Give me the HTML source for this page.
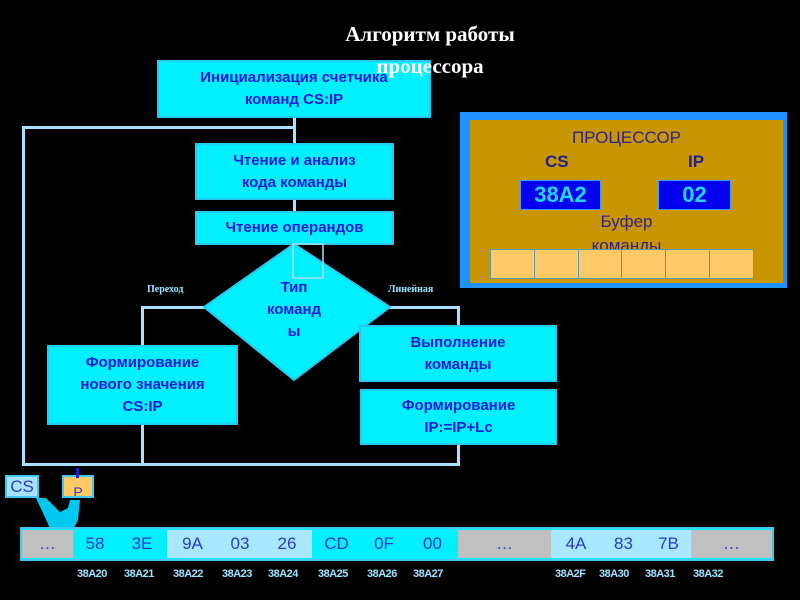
<!DOCTYPE html>
<html><head><meta charset="utf-8"><style>
body{margin:0;width:800px;height:600px;background:#000;position:relative;overflow:hidden;font-family:"Liberation Sans",sans-serif}
.a{position:absolute;box-sizing:border-box}
.b{background:#00f0ff;border:2px solid #28c8f0;color:#1a1ad8;font-weight:bold;font-size:15px;display:flex;align-items:center;justify-content:center;text-align:center;line-height:22px}
.l{position:absolute;background:#a8e0ff}
.m{position:absolute;top:530px;height:28px;display:flex;align-items:center;justify-content:center;color:#2a3acc;font-size:17px;border-right:2px solid #5ad0f0}
.ad{position:absolute;top:568px;color:#9be4ff;font-weight:bold;font-size:11px;letter-spacing:-0.5px}
</style></head><body>

<div class="l" style="left:22px;top:126px;width:3px;height:340px"></div>
<div class="l" style="left:22px;top:126px;width:272px;height:3px"></div>
<div class="l" style="left:293px;top:117px;width:3px;height:28px"></div>
<div class="l" style="left:293px;top:200px;width:3px;height:12px"></div>
<div class="l" style="left:141px;top:306px;width:64px;height:3px"></div>
<div class="l" style="left:141px;top:306px;width:3px;height:40px"></div>
<div class="l" style="left:388px;top:306px;width:71px;height:3px"></div>
<div class="l" style="left:457px;top:306px;width:3px;height:20px"></div>
<div class="l" style="left:141px;top:424px;width:3px;height:42px"></div>
<div class="l" style="left:457px;top:443px;width:3px;height:23px"></div>
<div class="l" style="left:22px;top:463px;width:438px;height:3px"></div>

<div class="a b" style="left:157px;top:60px;width:274px;height:58px">Инициализация счетчика<br>команд CS:IP</div>
<div class="a b" style="left:195px;top:143px;width:199px;height:57px">Чтение и анализ<br>кода команды</div>
<div class="a b" style="left:195px;top:211px;width:199px;height:34px">Чтение операндов</div>

<svg class="a" style="left:200px;top:240px" width="195" height="145"><polygon points="94,4 190,67 94,140 4,67" fill="#00f0ff" stroke="#28c8f0" stroke-width="2"/><rect x="93" y="4" width="30" height="34" fill="none" stroke="#a8e0ff" stroke-width="1.5"/></svg>
<div class="a" style="left:244px;top:277px;width:100px;text-align:center;color:#1a1ad8;font-weight:bold;font-size:15px;line-height:22px">Тип<br>команд<br>ы</div>
<div class="a" style="left:147px;top:284px;color:#9be4ff;font-weight:bold;font-size:10px;font-family:'Liberation Serif',serif">Переход</div>
<div class="a" style="left:388px;top:284px;color:#9be4ff;font-weight:bold;font-size:10px;font-family:'Liberation Serif',serif">Линейная</div>

<div class="a b" style="left:47px;top:345px;width:191px;height:80px">Формирование<br>нового значения<br>CS:IP</div>
<div class="a b" style="left:359px;top:325px;width:198px;height:57px">Выполнение<br>команды</div>
<div class="a b" style="left:360px;top:389px;width:197px;height:56px">Формирование<br>IP:=IP+Lc</div>

<div class="a" style="left:460px;top:112px;width:327px;height:176px;background:#1e90ff"></div>
<div class="a" style="left:470px;top:120px;width:313px;height:163px;background:#c89600"></div>
<div class="a" style="left:470px;top:128px;width:313px;text-align:center;color:#32208a;font-size:17px">ПРОЦЕССОР</div>
<div class="a" style="left:545px;top:152px;color:#22208a;font-weight:bold;font-size:17px">CS</div>
<div class="a" style="left:688px;top:152px;color:#22208a;font-weight:bold;font-size:17px">IP</div>
<div class="a" style="left:520px;top:180px;width:81px;height:30px;background:#0000ee;border:1px solid #3aa0ff;color:#20d8ff;font-weight:bold;font-size:22px;text-align:center;line-height:28px">38A2</div>
<div class="a" style="left:658px;top:180px;width:73px;height:30px;background:#0000ee;border:1px solid #3aa0ff;color:#20d8ff;font-weight:bold;font-size:22px;text-align:center;line-height:28px">02</div>
<div class="a" style="left:470px;top:210px;width:313px;text-align:center;color:#32208a;font-size:17px;line-height:24px">Буфер<br>команды</div>
<div class="a" style="left:490px;top:249px;width:264px;height:30px;display:flex;border:1px solid #5a9ab0">
<div style="flex:1;background:#ffc966;border-right:1px solid #5a9ab0"></div><div style="flex:1;background:#ffc966;border-right:1px solid #5a9ab0"></div><div style="flex:1;background:#ffc966;border-right:1px solid #5a9ab0"></div><div style="flex:1;background:#ffc966;border-right:1px solid #5a9ab0"></div><div style="flex:1;background:#ffc966;border-right:1px solid #5a9ab0"></div><div style="flex:1;background:#ffc966"></div></div>

<svg class="a" style="left:30px;top:490px" width="60" height="50"><polygon points="6,8 16,8 30,22 38,18 40,10 50,10 48,30 42,42 22,44 18,34" fill="#00c8f0"/></svg>
<div class="a" style="left:5px;top:475px;width:34px;height:23px;background:#a8e4ff;border:2px solid #40c8f0;color:#2a3acc;font-size:17px;text-align:center;line-height:20px">CS</div>
<div class="a" style="left:62px;top:475px;width:32px;height:23px;background:#ffc966;border:2px solid #40c8f0;color:#2a3acc;font-size:14px;text-align:center;line-height:30px;overflow:hidden">P</div>
<div class="a" style="left:76px;top:468px;width:3px;height:10px;background:#1a1ad8"></div>

<div class="a" style="left:20px;top:527px;width:754px;height:34px;background:#00f0ff;border:2px solid #40c8f0"></div>
<div class="m" style="left:22px;width:51px;background:#c0c0c0">…</div>
<div class="m" style="left:73px;width:44px;background:#00f0ff">58</div>
<div class="m" style="left:117px;width:50px;background:#00f0ff">3E</div>
<div class="m" style="left:167px;width:51px;background:#a8e8ff">9A</div>
<div class="m" style="left:218px;width:44px;background:#a8e8ff">03</div>
<div class="m" style="left:262px;width:50px;background:#a8e8ff">26</div>
<div class="m" style="left:312px;width:49px;background:#00f0ff">CD</div>
<div class="m" style="left:361px;width:46px;background:#00f0ff">0F</div>
<div class="m" style="left:407px;width:51px;background:#00f0ff">00</div>
<div class="m" style="left:458px;width:93px;background:#c0c0c0">…</div>
<div class="m" style="left:551px;width:50px;background:#a8e8ff">4A</div>
<div class="m" style="left:601px;width:45px;background:#a8e8ff">83</div>
<div class="m" style="left:646px;width:45px;background:#a8e8ff">7B</div>
<div class="m" style="left:691px;width:81px;background:#c0c0c0;border:none">…</div>

<div class="ad" style="left:77px">38A20</div>
<div class="ad" style="left:124px">38A21</div>
<div class="ad" style="left:173px">38A22</div>
<div class="ad" style="left:222px">38A23</div>
<div class="ad" style="left:268px">38A24</div>
<div class="ad" style="left:318px">38A25</div>
<div class="ad" style="left:367px">38A26</div>
<div class="ad" style="left:413px">38A27</div>
<div class="ad" style="left:555px">38A2F</div>
<div class="ad" style="left:599px">38A30</div>
<div class="ad" style="left:645px">38A31</div>
<div class="ad" style="left:693px">38A32</div>

<div class="a" style="left:300px;top:18px;width:260px;color:#fff;font-family:'Liberation Serif',serif;font-weight:bold;font-size:21px;line-height:32px;text-align:center">Алгоритм работы<br>процессора</div>
</body></html>
